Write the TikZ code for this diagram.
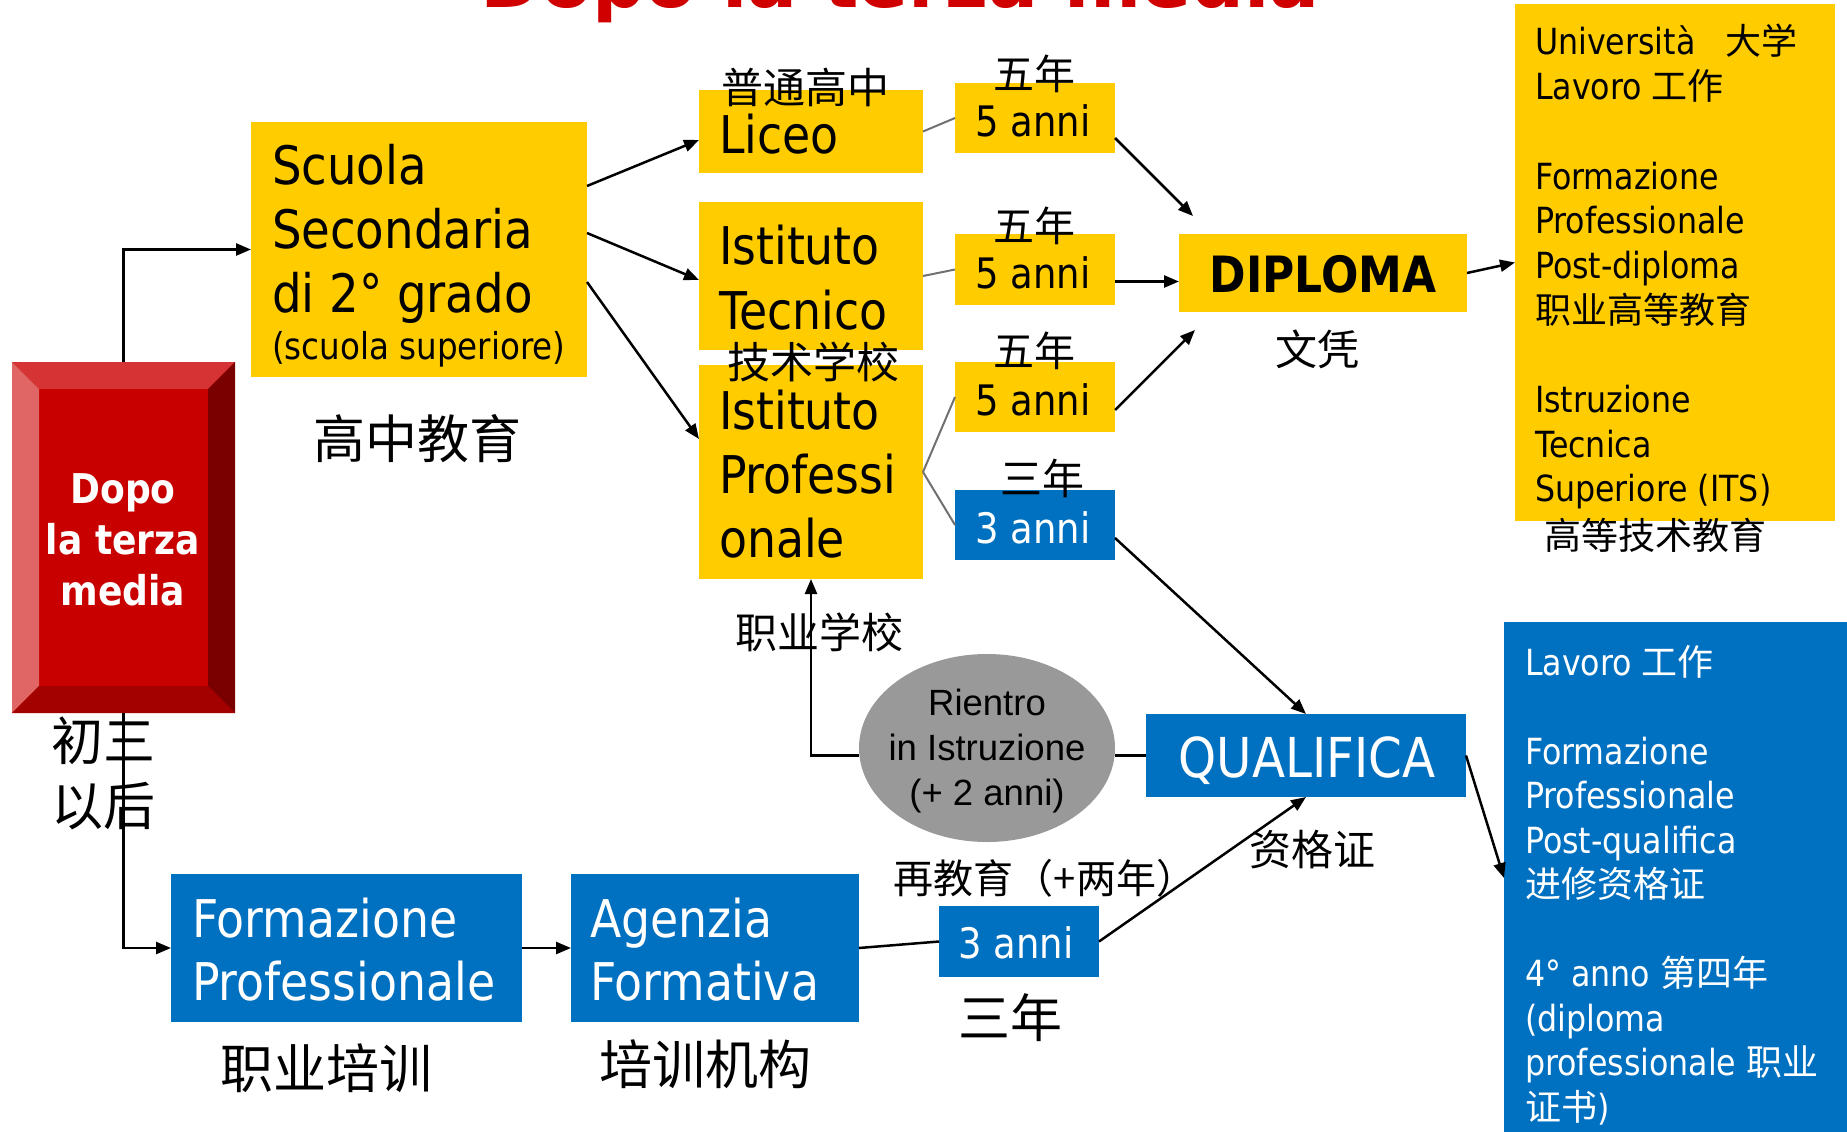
\documentclass[tikz,border=0pt]{standalone}
\usepackage{fontspec}
\setmainfont{DejaVu Sans}
\newfontfamily\boxfont{DejaVu Sans}[FakeStretch=0.88]
\newfontfamily\arialfont{Liberation Sans}
\newfontfamily\cjk{Noto Sans CJK SC}
\usetikzlibrary{arrows.meta,shapes.geometric}
\definecolor{yelfill}{HTML}{FFCC00}
\definecolor{bluefill}{HTML}{0070C0}
\definecolor{ellgray}{HTML}{999999}
\definecolor{linegray}{HTML}{707070}
\definecolor{titlered}{HTML}{D00000}
\definecolor{redmain}{HTML}{C80000}
\definecolor{redtop}{HTML}{D63434}
\definecolor{redleft}{HTML}{E06666}
\definecolor{redright}{HTML}{7A0000}
\definecolor{redbottom}{HTML}{A30000}
\newcommand{\setfs}[2]{\fontsize{#1}{#2}\selectfont}
\newcommand{\txtstack}[2][l]{\begin{tabular}[t]{@{}#1@{}}#2\end{tabular}}
\begin{document}
\begin{tikzpicture}[x=1pt, y=-1pt,
  ybox/.style={fill=yelfill, inner sep=0pt, outer sep=0pt},
  bbox/.style={fill=bluefill, inner sep=0pt, outer sep=0pt},
  txt/.style={inner sep=0pt, outer sep=0pt},
  cn/.style={txt, font={\setfs{#1}{#1}\cjk}},
  arr/.style={line width=2.5pt, -{Triangle[length=15pt,width=12pt]}},
  plain/.style={line width=2.5pt},
  link/.style={line width=2pt, draw=linegray}]
  \useasboundingbox (0,0) rectangle (1847,1132);
  \node[txt, anchor=base, text=titlered, font={\setfs{74}{80}\bfseries}] (title) at (900,8) {Dopo la terza media};

  \node[fill=redmain, inner sep=0pt, outer sep=0pt, minimum width=223, minimum height=351] (dopo) at (123.5,537.5) {};
  \fill[redtop] (dopo.north west) -- (dopo.north east) -- ([xshift=-27,yshift=-27]dopo.north east) -- ([xshift=27,yshift=-27]dopo.north west) -- cycle;
  \fill[redleft] (dopo.north west) -- ([xshift=27,yshift=-27]dopo.north west) -- ([xshift=27,yshift=27]dopo.south west) -- (dopo.south west) -- cycle;
  \fill[redright] (dopo.north east) -- ([xshift=-27,yshift=-27]dopo.north east) -- ([xshift=-27,yshift=27]dopo.south east) -- (dopo.south east) -- cycle;
  \fill[redbottom] (dopo.south west) -- ([xshift=27,yshift=27]dopo.south west) -- ([xshift=-27,yshift=27]dopo.south east) -- (dopo.south east) -- cycle;
  \node[txt, anchor=base, text=white, font={\setfs{41}{51}\boxfont\bfseries}] (dopotxt) at (123,503) {\txtstack[c]{Dopo\\la terza\\media}};
  \node[txt, anchor=base, font={\setfs{52}{65}\cjk}] (chusan) at (103,760) {\txtstack[c]{初三\\以后}};

  \node[ybox, minimum width=336, minimum height=255] (scuola) at (419,249.5) {};
  \node[txt, anchor=base west, font={\setfs{53}{64}\boxfont}] (scuolatxt) at (272,184) {\txtstack{Scuola\\Secondaria\\di 2° grado\\[-17pt]{\setfs{37}{44}(scuola superiore)}}};
  \node[cn=52] (gaozhong) at (417,439) {高中教育};

  \node[ybox, minimum width=224, minimum height=83] (liceo) at (811,131.5) {};
  \node[ybox, minimum width=224, minimum height=148] (tecnico) at (811,276) {};
  \node[ybox, minimum width=224, minimum height=214] (prof) at (811,472) {};
  \node[txt, anchor=base west, font={\setfs{52}{64}\boxfont}] (liceotxt) at (719,153) {Liceo};
  \node[txt, anchor=base west, font={\setfs{52}{65}\boxfont}] (tecnicotxt) at (719,264) {\txtstack{Istituto\\Tecnico}};
  \node[txt, anchor=base west, font={\setfs{52}{64}\boxfont}] (proftxt) at (719,429) {\txtstack{Istituto\\Professi\\onale}};
  \node[cn=42] (putong) at (805,87) {普通高中};
  \node[cn=43] (jishu) at (813,362) {技术学校};
  \node[cn=42] (zhiyexx) at (819,632) {职业学校};

  \node[ybox, minimum width=160, minimum height=70] (anni1) at (1035,118) {};
  \node[ybox, minimum width=160, minimum height=71] (anni2) at (1035,269.5) {};
  \node[ybox, minimum width=160, minimum height=70] (anni3) at (1035,397) {};
  \node[bbox, minimum width=160, minimum height=70] (anniB) at (1035,525) {};
  \node[txt, anchor=base, font={\setfs{42}{50}\boxfont}] (anni1txt) at (1033,136) {5 anni};
  \node[txt, anchor=base, font={\setfs{42}{50}\boxfont}] (anni2txt) at (1033,288) {5 anni};
  \node[txt, anchor=base, font={\setfs{42}{50}\boxfont}] (anni3txt) at (1033,415) {5 anni};
  \node[txt, anchor=base, text=white, font={\setfs{42}{50}\boxfont}] (anniBtxt) at (1033,543) {3 anni};
  \node[cn=41] (wunian1) at (1034,74) {五年};
  \node[cn=41] (wunian2) at (1034,226) {五年};
  \node[cn=41] (wunian3) at (1034,351) {五年};
  \node[cn=42] (sannian1) at (1042,478) {三年};

  \node[ybox, minimum width=288, minimum height=78] (diploma) at (1323,273) {};
  \node[txt, anchor=base, font={\setfs{50}{56}\boxfont\bfseries}] (diplomatxt) at (1323,292) {DIPLOMA};
  \node[cn=42] (wenping) at (1317,349) {文凭};

  \node[ybox, minimum width=320, minimum height=517] (univ) at (1675,262.5) {};
  \node[txt, anchor=base west, font={\setfs{36}{44.7}\boxfont}] (univtxt) at (1535,55) {\txtstack{Università\ \ \ {\cjk 大学}\\Lavoro {\cjk 工作}\\ \\Formazione\\Professionale\\Post-diploma\\{\cjk 职业高等教育}\\ \\Istruzione\\Tecnica\\Superiore (ITS)}};
  \node[cn=37] (gaodeng) at (1655,535) {高等技术教育};

  \node[fill=ellgray, ellipse, inner sep=0pt, outer sep=0pt, minimum width=256, minimum height=188] (rientro) at (987,748) {};
  \node[txt, anchor=base, font={\setfs{36.5}{45}\arialfont}] (rientrotxt) at (987,715) {\txtstack[c]{Rientro\\in Istruzione\\(+ 2 anni)}};
  \node[cn=40] (zaijiaoyu) at (1045,878) {再教育（+两年）};

  \node[bbox, minimum width=320, minimum height=83] (qualifica) at (1306,755.5) {};
  \node[txt, anchor=base, text=white, font={\setfs{55}{60}\boxfont}] (qualificatxt) at (1307,777) {QUALIFICA};
  \node[cn=42] (zige) at (1312,850) {资格证};

  \node[bbox, minimum width=356, minimum height=523] (postq) at (1682,883.5) {};
  \node[txt, anchor=base west, text=white, font={\setfs{36}{44.5}\boxfont}] (postqtxt) at (1525,675) {\txtstack{Lavoro {\cjk 工作}\\ \\Formazione\\Professionale\\Post-qualifica\\{\cjk 进修资格证}\\ \\4° anno {\cjk 第四年}\\(diploma\\professionale {\cjk 职业}\\{\cjk 证书})}};

  \node[bbox, minimum width=351, minimum height=148] (formaz) at (346.5,948) {};
  \node[bbox, minimum width=288, minimum height=148] (agenzia) at (715,948) {};
  \node[txt, anchor=base west, text=white, font={\setfs{52}{63}\boxfont}] (formaztxt) at (192,937) {\txtstack{Formazione\\Professionale}};
  \node[txt, anchor=base west, text=white, font={\setfs{52}{63}\boxfont}] (agenziatxt) at (590,937) {\txtstack{Agenzia\\Formativa}};
  \node[cn=53] (peixun) at (326,1068) {职业培训};
  \node[cn=53] (jigou) at (705,1064) {培训机构};

  \node[bbox, minimum width=160, minimum height=71] (anniC) at (1019,941.5) {};
  \node[txt, anchor=base, text=white, font={\setfs{42}{50}\boxfont}] (anniCtxt) at (1016,958) {3 anni};
  \node[cn=52] (sannian2) at (1010,1018) {三年};

  \draw[arr] (dopo.north) |- (scuola.west);
  \draw[arr] (dopo.south) |- (formaz.west);
  \draw[arr] ([yshift=63.5]scuola.east) -- ([yshift=-8.5]liceo.west);
  \draw[arr] ([yshift=16.5]scuola.east) -- ([yshift=-4]tecnico.west);
  \draw[arr] ([yshift=-32.5]scuola.east) -- ([yshift=33]prof.west);
  \draw[link] (liceo.east) -- (anni1.west);
  \draw[link] (tecnico.east) -- (anni2.west);
  \draw[link] (prof.east) -- (anni3.west);
  \draw[link] (prof.east) -- (anniB.west);
  \draw[arr] ([yshift=-20]anni1.east) -- ([xshift=14,yshift=18]diploma.north west);
  \draw[arr] ([yshift=-12]anni2.east) -- ([yshift=-8.5]diploma.west);
  \draw[arr] ([yshift=-13]anni3.east) -- ([xshift=16,yshift=-18]diploma.south west);
  \draw[arr] (diploma.east) -- (univ.west);
  \draw[arr] ([yshift=-13]anniB.east) -- (qualifica.north);
  \draw[arr] (anniC.east) -- (qualifica.south);
  \draw[arr] (formaz.east) -- (agenzia.west);
  \draw[plain] (agenzia.east) -- (anniC.west);
  \draw[plain] (rientro.east |- qualifica.west) -- (qualifica.west);
  \draw[arr] (rientro.west |- qualifica.west) -| (prof.south);
  \draw[arr] (qualifica.east) -- ([yshift=5.5]postq.west);
\end{tikzpicture}
\end{document}
